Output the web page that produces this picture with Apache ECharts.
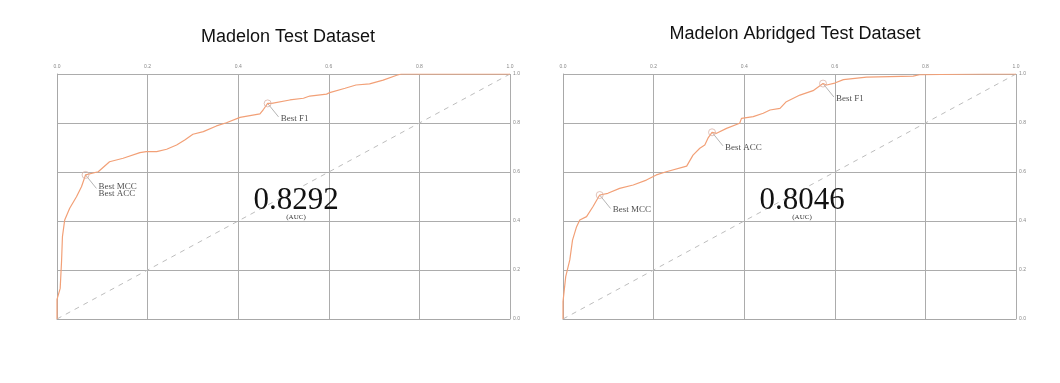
<!DOCTYPE html>
<html>
<head>
<meta charset="utf-8">
<script src="https://cdn.jsdelivr.net/npm/echarts@6/dist/echarts.min.js"></script>
<style>
html,body{margin:0;padding:0;background:#fff;}
#chart{width:1060px;height:383px;}
</style>
</head>
<body>
<div id="chart"></div>
<script>
// ---- Data ----
const titles = ['Madelon Test Dataset', 'Madelon Abridged Test Dataset'];
const aucValues = ['0.8292', '0.8046'];
const tickValues = [0, 0.2, 0.4, 0.6, 0.8, 1.0];

// Left ROC curve: [FPR, TPR]
const rocFullFpr = [0, 0, 0.007, 0.010, 0.012, 0.017, 0.028, 0.043, 0.054, 0.063, 0.091, 0.116, 0.146, 0.183, 0.197, 0.220, 0.242, 0.264, 0.282, 0.300, 0.323, 0.352, 0.374, 0.404, 0.448, 0.456, 0.465, 0.474, 0.514, 0.544, 0.558, 0.595, 0.602, 0.636, 0.660, 0.690, 0.720, 0.750, 0.760, 1.0];
const rocFullTpr = [0, 0.080, 0.125, 0.234, 0.336, 0.404, 0.452, 0.499, 0.540, 0.588, 0.601, 0.642, 0.656, 0.679, 0.683, 0.683, 0.693, 0.710, 0.731, 0.754, 0.765, 0.788, 0.801, 0.823, 0.837, 0.856, 0.880, 0.880, 0.894, 0.901, 0.910, 0.918, 0.924, 0.942, 0.955, 0.960, 0.975, 0.995, 1.0, 1.0];

// Right ROC curve
const rocAbrFpr = [0, 0, 0.006, 0.015, 0.021, 0.030, 0.037, 0.052, 0.066, 0.081, 0.099, 0.125, 0.155, 0.184, 0.206, 0.228, 0.273, 0.287, 0.302, 0.313, 0.320, 0.329, 0.339, 0.361, 0.390, 0.394, 0.420, 0.442, 0.457, 0.479, 0.493, 0.523, 0.552, 0.574, 0.582, 0.600, 0.619, 0.670, 0.773, 0.787, 0.930, 1.0];
const rocAbrTpr = [0, 0.071, 0.173, 0.241, 0.322, 0.377, 0.404, 0.418, 0.458, 0.506, 0.513, 0.533, 0.547, 0.567, 0.588, 0.601, 0.624, 0.669, 0.697, 0.710, 0.738, 0.762, 0.758, 0.778, 0.799, 0.819, 0.826, 0.840, 0.853, 0.860, 0.887, 0.914, 0.932, 0.961, 0.955, 0.963, 0.977, 0.987, 0.991, 0.997, 1.0, 1.0];

// Best-threshold annotations: [FPR, TPR], label
const bestFullPoints = [[0.063, 0.588], [0.465, 0.880]];
const bestFullLabels = ['Best MCC\nBest ACC', 'Best F1'];
const bestAbrPoints = [[0.081, 0.506], [0.329, 0.762], [0.574, 0.961]];
const bestAbrLabels = ['Best MCC', 'Best ACC', 'Best F1'];

// ---- Build ----
const zip = (a, b) => a.map((v, i) => [v, b[i]]);
const serif = '"Liberation Serif", "DejaVu Serif", serif';
const sans = '"Liberation Sans", Arial, sans-serif';

const grids = [
  {left: 57, top: 74, width: 453, height: 245},
  {left: 563, top: 74, width: 453, height: 245}
];

function xAxis(i) {
  return {
    gridIndex: i, type: 'value', min: 0, max: 1, interval: 0.2, position: 'top',
    axisLine: {show: true, lineStyle: {color: '#a8a8a8', width: 1}},
    axisTick: {show: false},
    splitLine: {show: true, lineStyle: {color: '#acacac', width: 1}},
    axisLabel: {fontSize: 5, color: '#888', margin: 5, fontFamily: sans,
      formatter: v => v.toFixed(1)}
  };
}
function yAxis(i) {
  return {
    gridIndex: i, type: 'value', min: 0, max: 1, interval: 0.2, position: 'right',
    axisLine: {show: true, lineStyle: {color: '#a8a8a8', width: 1}},
    axisTick: {show: false},
    splitLine: {show: true, lineStyle: {color: '#acacac', width: 1}},
    axisLabel: {fontSize: 5, color: '#888', margin: 3, fontFamily: sans,
      formatter: v => v.toFixed(1)}
  };
}

function rocSeries(i, fpr, tpr) {
  return {
    type: 'line', xAxisIndex: i, yAxisIndex: i, data: zip(fpr, tpr),
    symbol: 'none', smooth: false, z: 5,
    lineStyle: {color: '#f2a077', width: 1.2}
  };
}
function diagSeries(i) {
  return {
    type: 'line', xAxisIndex: i, yAxisIndex: i, data: [[0, 0], [1, 1]],
    symbol: 'none', z: 3,
    lineStyle: {color: '#bdbdbd', width: 1, type: [5, 5]}
  };
}
function bestSeries(i, pts, labels) {
  return {
    type: 'scatter', xAxisIndex: i, yAxisIndex: i, z: 6,
    data: pts.map((p, k) => ({value: p, name: labels[k]})),
    symbol: 'circle', symbolSize: 7,
    itemStyle: {color: 'rgba(255,255,255,0)', borderColor: '#d9b3a8', borderWidth: 1},
    label: {show: true, position: 'right', distance: 0, offset: [9, 15],
      formatter: p => p.name, fontFamily: serif, fontSize: 9, lineHeight: 7.5,
      color: '#222', align: 'left'},
    markLine: {
      silent: true, symbol: 'none', animation: false,
      label: {show: false},
      lineStyle: {color: '#b5b5b5', width: 1, type: 'solid'},
      data: pts.map(p => [{coord: p}, {coord: [p[0] + 0.024, p[1] - 0.055]}])
    }
  };
}

const option = {
  backgroundColor: '#fff',
  animation: false,
  title: [
    {text: titles[0], left: 283, top: 23, textAlign: 'center',
      textStyle: {fontFamily: sans, fontSize: 18, fontWeight: 'normal', color: '#111'}},
    {text: titles[1], left: 790, top: 20, textAlign: 'center',
      textStyle: {fontFamily: sans, fontSize: 18, fontWeight: 'normal', color: '#111'}},
    {text: aucValues[0], left: 291, top: 180, textAlign: 'center',
      textStyle: {fontFamily: serif, fontSize: 31, fontWeight: 'normal', color: '#111'}},
    {text: '(AUC)', left: 291, top: 209, textAlign: 'center',
      textStyle: {fontFamily: serif, fontSize: 7, fontWeight: 'normal', color: '#333'}},
    {text: aucValues[1], left: 797, top: 180, textAlign: 'center',
      textStyle: {fontFamily: serif, fontSize: 31, fontWeight: 'normal', color: '#111'}},
    {text: '(AUC)', left: 797, top: 209, textAlign: 'center',
      textStyle: {fontFamily: serif, fontSize: 7, fontWeight: 'normal', color: '#333'}}
  ],
  grid: grids,
  xAxis: [xAxis(0), xAxis(1)],
  yAxis: [yAxis(0), yAxis(1)],
  series: [
    diagSeries(0), rocSeries(0, rocFullFpr, rocFullTpr), bestSeries(0, bestFullPoints, bestFullLabels),
    diagSeries(1), rocSeries(1, rocAbrFpr, rocAbrTpr), bestSeries(1, bestAbrPoints, bestAbrLabels)
  ]
};

const chart = echarts.init(document.getElementById('chart'), null, {renderer: 'canvas'});
chart.setOption(option);
</script>
</body>
</html>
